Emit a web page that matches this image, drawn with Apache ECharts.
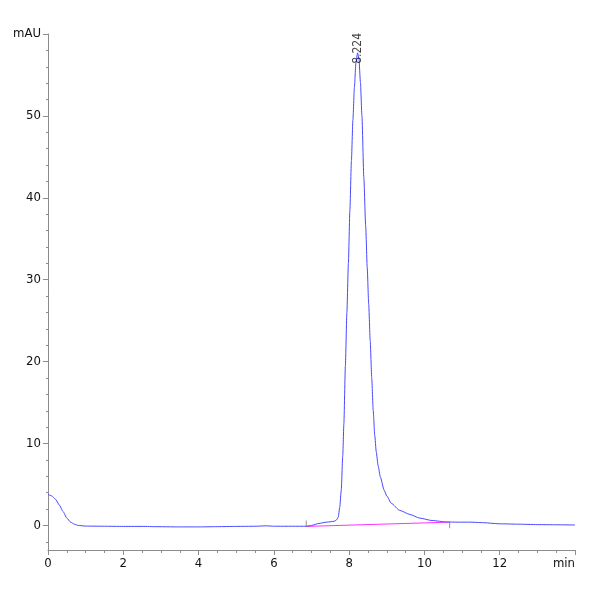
<!DOCTYPE html>
<html>
<head>
<meta charset="utf-8">
<script src="https://cdn.jsdelivr.net/npm/echarts@6/dist/echarts.min.js"></script>
<style>
html,body{margin:0;padding:0;background:#fff;}
#chart{width:600px;height:600px;}
</style>
</head>
<body>
<div id="chart"></div>
<script>
// Retention time (min) and detector signal (mAU)
const times = [0, 0.1, 0.2, 0.3, 0.4, 0.5, 0.6, 0.7, 0.8, 1.0, 1.5, 2.0, 2.6, 2.8, 3.5, 4.0, 4.5, 5.0, 5.5, 5.8, 6.0, 6.5, 6.86, 7.0, 7.2, 7.4, 7.6, 7.66, 7.71, 7.75, 7.79, 7.83, 7.86, 7.90, 7.94, 7.98, 8.02, 8.06, 8.10, 8.14, 8.18, 8.224, 8.26, 8.30, 8.34, 8.39, 8.44, 8.48, 8.52, 8.56, 8.60, 8.64, 8.68, 8.72, 8.77, 8.83, 8.93, 9.0, 9.12, 9.34, 9.61, 9.87, 10.2, 10.6, 10.9, 11.2, 11.5, 12.0, 12.5, 13.0, 13.5, 14.0];
const signal = [3.8, 3.6, 3.2, 2.5, 1.7, 0.9, 0.4, 0.15, 0.0, -0.08, -0.1, -0.12, -0.12, -0.15, -0.18, -0.18, -0.15, -0.12, -0.1, -0.05, -0.1, -0.1, -0.1, 0.0, 0.25, 0.4, 0.5, 0.65, 1.0, 2.2, 4.3, 8.5, 12.4, 19.5, 26.0, 32.0, 38.5, 44.5, 49.5, 53.5, 56.5, 57.7, 57.0, 54.1, 50.0, 42.5, 36.5, 31.5, 27.0, 22.5, 18.0, 14.0, 11.0, 9.0, 7.3, 5.9, 4.3, 3.6, 2.7, 1.84, 1.35, 0.9, 0.6, 0.42, 0.4, 0.4, 0.35, 0.2, 0.15, 0.1, 0.08, 0.05];

// Integration baseline of the peak
const baselineTimes = [6.86, 10.67];
const baselineValues = [-0.12, 0.4];

// Peak annotation
const peakTime = 8.224;

// Axis ticks
const xTicks = [0, 2, 4, 6, 8, 10, 12, 14];
const yMajorTicks = [0, 10, 20, 30, 40, 50, 60];
const yMinorTicks = [-2, 2, 4, 6, 8, 12, 14, 16, 18, 22, 24, 26, 28, 32, 34, 36, 38, 42, 44, 46, 48, 52, 54, 56, 58];
const xUnit = 'min';
const yUnit = 'mAU';

const peakHeight = Math.max(...signal);
const traceData = times.map((t, i) => [t, signal[i]]);
const baselineData = baselineTimes.map((t, i) => [t, baselineValues[i]]);

const font = '"Liberation Sans Narrow", "DejaVu Sans Condensed", "Liberation Sans", Arial, sans-serif';
const axisGray = '#8c8c8c';

const chart = echarts.init(document.getElementById('chart'), null, {renderer: 'canvas'});
chart.setOption({
  animation: false,
  backgroundColor: '#fff',
  grid: {left: 48, right: 25, top: 34, bottom: 50},
  xAxis: {
    type: 'value', min: xTicks[0], max: xTicks[xTicks.length - 1], interval: 2,
    axisLine: {show: true, onZero: false, lineStyle: {color: axisGray, width: 1}},
    axisTick: {show: true, length: 5, lineStyle: {color: axisGray}},
    minorTick: {show: true, splitNumber: 4, length: 3, lineStyle: {color: axisGray}},
    splitLine: {show: false},
    axisLabel: {
      color: '#111', fontFamily: font, fontSize: 13, margin: 7,
      alignMaxLabel: 'right',
      formatter: v => v === xTicks[xTicks.length - 1] ? xUnit : String(v)
    }
  },
  yAxis: [{
    type: 'value', min: -3, max: 60,
    axisLine: {show: true, onZero: false, lineStyle: {color: axisGray, width: 1}},
    axisTick: {show: true, length: 5, customValues: yMajorTicks, lineStyle: {color: axisGray}},
    splitLine: {show: false},
    axisLabel: {
      color: '#111', fontFamily: font, fontSize: 13, margin: 7,
      customValues: yMajorTicks,
      formatter: v => v === 60 ? yUnit : String(v)
    }
  }, {
    type: 'value', min: -3, max: 60, position: 'left',
    axisLine: {show: false},
    axisTick: {show: true, length: 2, customValues: yMinorTicks, lineStyle: {color: axisGray}},
    axisLabel: {show: false},
    splitLine: {show: false}
  }],
  series: [{
    type: 'line',
    data: traceData,
    showSymbol: false,
    smooth: 0.2,
    smoothMonotone: 'x',
    lineStyle: {color: '#4848ff', width: 1},
    z: 3
  }, {
    type: 'line',
    data: baselineData,
    showSymbol: false,
    lineStyle: {color: '#ff30ff', width: 1},
    z: 2
  }, {
    type: 'scatter',
    data: [
      {value: baselineData[0], symbolOffset: [0, -3]},
      {value: baselineData[1], symbolOffset: [0, 3]}
    ],
    symbol: 'rect',
    symbolSize: [1, 6],
    itemStyle: {color: '#777'},
    z: 4
  }, {
    type: 'scatter',
    data: [[peakTime, peakHeight]],
    symbolSize: 0,
    label: {
      show: true,
      position: 'inside',
      rotate: 90,
      align: 'left',
      verticalAlign: 'middle',
      offset: [-11, 0],
      formatter: () => peakTime.toFixed(3),
      color: '#111',
      fontFamily: font,
      fontSize: 12
    },
    z: 5
  }]
});
</script>
</body>
</html>
